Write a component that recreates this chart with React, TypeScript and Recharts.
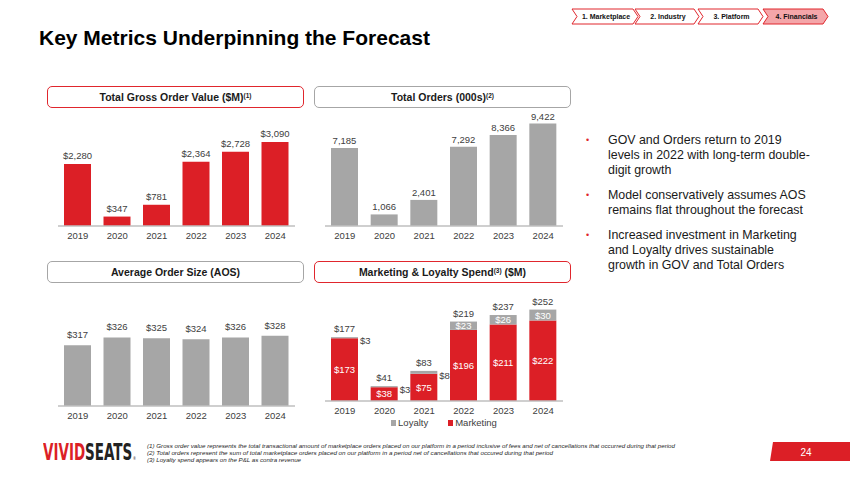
import React from 'react';
import { BarChart, Bar, XAxis, YAxis, LabelList, Legend } from 'recharts';

// chart values
const years = ['2019', '2020', '2021', '2022', '2023', '2024'];
const gov = [2280, 347, 781, 2364, 2728, 3090];
const orders = [7185, 1066, 2401, 7292, 8366, 9422];
const aos = [317, 326, 325, 324, 326, 328];
const marketing = [173, 38, 75, 196, 211, 222];
const loyalty = [3, 3, 8, 23, 26, 30];
const spendTotal = [177, 41, 83, 219, 237, 252];

const navItems = ['1. Marketplace', '2. Industry', '3. Platform', '4. Financials'];
const bullets = [
  ['GOV and Orders return to 2019', 'levels in 2022 with long-term double-', 'digit growth'],
  ['Model conservatively assumes AOS', 'remains flat throughout the forecast'],
  ['Increased investment in Marketing', 'and Loyalty drives sustainable', 'growth in GOV and Total Orders'],
];
const footnotes = [
  '(1) Gross order value represents the total transactional amount of marketplace orders placed on our platform in a period inclusive of fees and net of cancellations that occurred during that period',
  '(2) Total orders represent the sum of total marketplace orders placed on our platform in a period net of cancellations that occured during that period',
  '(3) Loyalty spend appears on the P&L as contra revenue',
];

const rows = years.map((year, i) => ({
  year,
  gov: gov[i],
  orders: orders[i],
  aos: aos[i],
  marketing: marketing[i],
  loyalty: loyalty[i],
}));

const RED = '#dc1f26';
const GRAY = '#a6a6a6';
const TXT = '#404040';
const FONT = '"Liberation Sans", Arial, sans-serif';
const NARROW = '"Liberation Sans Narrow", "DejaVu Sans Condensed", sans-serif';

const money = (v: any) => `$${Number(v).toLocaleString('en-US')}`;
const plain = (v: any) => Number(v).toLocaleString('en-US');

const axisProps = {
  dataKey: 'year',
  tickLine: false,
  tickSize: 6,
  tickMargin: 0,
  interval: 0 as const,
  axisLine: { stroke: '#bfbfbf', strokeWidth: 1.5 },
  tick: { fill: TXT, fontSize: 9.5, fontFamily: FONT },
};

function SimpleBars(props: {
  dataKey: string; left: number; top: number; width: number;
  domain: [number, number]; fill: string; format: (v: any) => string; offset: number;
}) {
  const { dataKey, left, top, width, domain, fill, format, offset } = props;
  return (
    <div style={{ position: 'absolute', left, top }}>
      <BarChart width={width} height={140} data={rows} margin={{ top: 0, right: 0, bottom: 0, left: 0 }}>
        <XAxis {...axisProps} height={24} />
        <YAxis hide domain={domain} allowDataOverflow />
        <Bar dataKey={dataKey} fill={fill} barSize={27} isAnimationActive={false}>
          <LabelList dataKey={dataKey} position="top" offset={offset} formatter={format}
            fill={TXT} fontSize={9.5} fontFamily={FONT} />
        </Bar>
      </BarChart>
    </div>
  );
}

const loyaltyLabel = (p: any) => {
  const x = Number(p.x), y = Number(p.y), w = Number(p.width), h = Number(p.height);
  const i = p.index;
  const txt = `$${loyalty[i]}`;
  if (i < 3) {
    return (
      <text x={x + w + 2} y={y + h / 2 + 3} textAnchor="start" dominantBaseline="central"
        fill={TXT} fontSize={9.5} fontFamily={FONT}>{txt}</text>
    );
  }
  return (
    <text x={x + w / 2} y={y + h / 2} textAnchor="middle" dominantBaseline="central"
      fill="#fff" fontSize={9.5} fontFamily={FONT}>{txt}</text>
  );
};

const totalLabel = (p: any) => {
  const x = Number(p.x), y = Number(p.y), w = Number(p.width);
  return (
    <text x={x + w / 2} y={y - 5} textAnchor="middle" fill={TXT} fontSize={9.5} fontFamily={FONT}>
      {`$${spendTotal[p.index]}`}
    </text>
  );
};

const legendContent = () => (
  <div style={{ display: 'flex', justifyContent: 'center', alignItems: 'center', height: 12,
    fontSize: 9.5, color: TXT, fontFamily: FONT, lineHeight: '12px' }}>
    <span style={{ display: 'inline-block', width: 5, height: 6, background: GRAY, marginRight: 2 }} />
    <span style={{ marginRight: 20 }}>Loyalty</span>
    <span style={{ display: 'inline-block', width: 5, height: 6, background: RED, marginRight: 2 }} />
    <span>Marketing</span>
  </div>
);

function SpendChart() {
  return (
    <div style={{ position: 'absolute', left: 325, top: 290 }}>
      <BarChart width={238} height={139} data={rows} margin={{ top: 0, right: 0, bottom: 0, left: 0 }}>
        <XAxis {...axisProps} height={16} />
        <YAxis hide domain={[0, 306]} allowDataOverflow />
        <Legend verticalAlign="bottom" height={12} content={legendContent} />
        <Bar dataKey="marketing" name="Marketing" stackId="s" fill={RED} barSize={27} isAnimationActive={false}>
          <LabelList dataKey="marketing" position="center" formatter={money}
            fill="#fff" fontSize={9.5} fontFamily={FONT} />
        </Bar>
        <Bar dataKey="loyalty" name="Loyalty" stackId="s" fill={GRAY} barSize={27} isAnimationActive={false}>
          <LabelList dataKey="loyalty" content={loyaltyLabel} />
          <LabelList dataKey="loyalty" content={totalLabel} />
        </Bar>
      </BarChart>
    </div>
  );
}

const Sup = ({ children }: { children: React.ReactNode }) => (
  <span style={{ fontSize: 6.5, position: 'relative', top: -3 }}>{children}</span>
);

function Header({ left, top, red, children }: { left: number; top: number; red: boolean; children: React.ReactNode }) {
  return (
    <div style={{
      position: 'absolute', left, top, width: 257, height: 22, boxSizing: 'border-box',
      border: `1px solid ${red ? '#e0262d' : '#a6a6a6'}`, borderRadius: 5,
      textAlign: 'center', lineHeight: '20px', fontSize: 10.5, fontWeight: 700,
      color: '#1a1a1a', fontFamily: FONT,
    }}>{children}</div>
  );
}

const navX: [number, number][] = [[572, 638], [635, 699], [698, 763], [763, 828]];

function Decorations() {
  return (
    <svg width={850} height={478} style={{ position: 'absolute', left: 0, top: 0 }}>
      {navItems.map((label, i) => {
        const [x0, x1] = navX[i];
        const pts = `${x0},9 ${x1 - 5},9 ${x1},16.5 ${x1 - 5},24 ${x0},24 ${x0 + 5},16.5`;
        return (
          <g key={label}>
            <polygon points={pts} fill={i === 3 ? '#f4a6a9' : '#fff'} stroke="#e0262d" strokeWidth={1} />
            <text x={(x0 + x1) / 2 + 1} y={16.5} textAnchor="middle" dominantBaseline="central"
              fontSize={7} fontWeight={700} fontFamily={FONT} fill="#111">{label}</text>
          </g>
        );
      })}
      {footnotes.map((f, i) => (
        <text key={i} x={147} y={447.5 + i * 7} fontSize={6} fontStyle="italic" fill="#262626"
          fontFamily={FONT} textLength={[528, 406, 154][i]} lengthAdjust="spacingAndGlyphs">{f}</text>
      ))}
      <polygon points="773,442 850,442 850,461 770,461" fill={RED} />
      <text x={806} y={452} textAnchor="middle" dominantBaseline="central" fontSize={10}
        fill="#fff" fontFamily={FONT}>24</text>
    </svg>
  );
}

function Logo() {
  return (
    <div style={{
      position: 'absolute', left: 43, top: 444.5, fontFamily: NARROW, fontWeight: 700,
      fontSize: 18.3, lineHeight: '18px', whiteSpace: 'nowrap',
      transform: 'scale(0.82, 1.28)', transformOrigin: '0 15px',
    }}>
      <span style={{ color: RED }}>VIVID</span>
      <span style={{ color: '#222' }}>SEATS</span>
      <span style={{ color: '#222', fontSize: 4, fontWeight: 400, marginLeft: 1 }}>®</span>
    </div>
  );
}

export default function App() {
  return (
    <div style={{ position: 'absolute', left: 0, top: 0, width: 850, height: 478, background: '#fff',
      fontFamily: FONT, overflow: 'hidden' }}>
      <Decorations />
      <Logo />
      <div style={{ position: 'absolute', left: 39, top: 26, fontSize: 21, lineHeight: '24px',
        fontWeight: 700, color: '#000', whiteSpace: 'nowrap' }}>
        Key Metrics Underpinning the Forecast
      </div>

      <Header left={47} top={86} red>Total Gross Order Value ($M)<Sup>(1)</Sup></Header>
      <Header left={314} top={86} red={false}>Total Orders (000s)<Sup>(2)</Sup></Header>
      <Header left={47} top={261} red={false}>Average Order Size (AOS)</Header>
      <Header left={314} top={261} red>Marketing &amp; Loyalty Spend<Sup>(3)</Sup> ($M)</Header>

      <SimpleBars dataKey="gov" left={58} top={110} width={237} domain={[0, 4267]} fill={RED} format={money} offset={5} />
      <SimpleBars dataKey="orders" left={325} top={110} width={238} domain={[0, 10673]} fill={GRAY} format={plain} offset={4} />
      <SimpleBars dataKey="aos" left={58} top={290} width={237} domain={[248, 380]} fill={GRAY} format={money} offset={7} />
      <SpendChart />

      <div style={{ position: 'absolute', left: 586, top: 133, width: 260, fontSize: 12.4,
        lineHeight: '15px', color: '#1a1a1a' }}>
        {bullets.map((lines, i) => (
          <div key={i} style={{ display: 'flex', marginBottom: 10 }}>
            <div style={{ width: 22, color: '#e0262d', fontSize: 9 }}>•</div>
            <div style={{ whiteSpace: 'nowrap' }}>
              {lines.map((l, j) => <div key={j}>{l}</div>)}
            </div>
          </div>
        ))}
      </div>
    </div>
  );
}
